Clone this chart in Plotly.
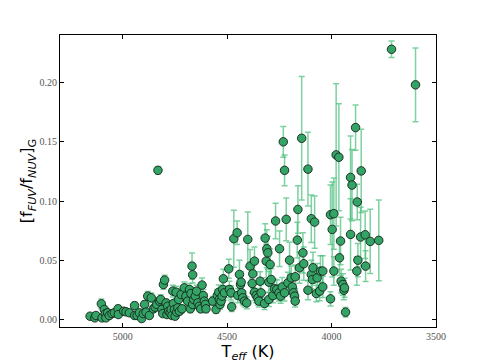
import plotly.graph_objects as go

# effective temperature (K)
teff = [
    5156, 5133, 5128, 5102, 5099, 5088, 5083, 5080, 5072, 5064,
    5051, 5040, 5022, 5021, 4995, 4984, 4968, 4943, 4943, 4931,
    4920, 4909, 4901, 4895, 4888, 4880, 4872, 4863, 4853, 4845,
    4837, 4831, 4824, 4818, 4812, 4808, 4805, 4799, 4792, 4788,
    4784, 4780, 4773, 4768, 4764, 4760, 4757, 4752, 4749, 4744,
    4741, 4736, 4732, 4728, 4720, 4716, 4705, 4697, 4689, 4680,
    4676, 4673, 4668, 4665, 4665, 4660, 4652, 4646, 4640, 4633,
    4626, 4620, 4614, 4609, 4604, 4601, 4569, 4553, 4547, 4540,
    4537, 4534, 4529, 4524, 4521, 4518, 4513, 4492, 4489, 4481,
    4478, 4468, 4452, 4449, 4441, 4436, 4433, 4430, 4425, 4417,
    4406, 4401, 4390, 4380, 4377, 4369, 4369, 4361, 4353, 4348,
    4342, 4337, 4321, 4318, 4313, 4310, 4305, 4300, 4300, 4294,
    4289, 4281, 4273, 4268, 4262, 4252, 4249, 4244, 4236, 4231,
    4225, 4225, 4217, 4209, 4201, 4193, 4188, 4182, 4177, 4174,
    4174, 4164, 4161, 4154, 4143, 4137, 4133, 4113, 4113, 4097,
    4097, 4092, 4089, 4081, 4073, 4069, 4057, 4053, 4042, 4042,
    4005, 4005, 3997, 3989, 3989, 3978, 3965, 3962, 3957, 3954,
    3946, 3941, 3938, 3933, 3909, 3909, 3902, 3885, 3877, 3879,
    3874, 3858, 3861, 3839, 3837, 3815, 3774, 3713, 3598,
]

# FUV/NUV flux ratio
ratio = [
    0.0031, 0.0017, 0.0037, 0.0135, 0.0017, 0.0087, 0.0053, 0.0017, 0.0060, 0.0037,
    0.0053, 0.0060, 0.0093, 0.0045, 0.0073, 0.0068, 0.0060, 0.0120, 0.0037, 0.0037,
    0.0060, 0.0011, 0.0053, 0.0130, 0.0065, 0.0200, 0.0037, 0.0186, 0.0093, 0.0107,
    0.0130, 0.1260, 0.0158, 0.0172, 0.0087, 0.0053, 0.0298, 0.0335, 0.0143, 0.0045,
    0.0115, 0.0073, 0.0060, 0.0087, 0.0037, 0.0242, 0.0138, 0.0087, 0.0031, 0.0233,
    0.0065, 0.0101, 0.0172, 0.0073, 0.0214, 0.0093, 0.0270, 0.0200, 0.0158, 0.0256,
    0.0093, 0.0222, 0.0453, 0.0380, 0.0130, 0.0172, 0.0200, 0.0242, 0.0143, 0.0115,
    0.0093, 0.0293, 0.0205, 0.0158, 0.0130, 0.0093, 0.0158, 0.0087, 0.0205, 0.0233,
    0.0172, 0.0130, 0.0158, 0.0200, 0.0256, 0.0346, 0.0228, 0.0430, 0.0256, 0.0228,
    0.0110, 0.0684, 0.0734, 0.0205, 0.0383, 0.0298, 0.0318, 0.0228, 0.0186, 0.0158,
    0.0143, 0.0678, 0.0453, 0.0307, 0.0388, 0.0495, 0.0233, 0.0205, 0.0186, 0.0158,
    0.0326, 0.0228, 0.0138, 0.0689, 0.0495, 0.0599, 0.0565, 0.0318, 0.0172, 0.0467,
    0.0340, 0.0205, 0.0262, 0.0833, 0.0256, 0.0228, 0.0599, 0.0200, 0.0278, 0.1500,
    0.1260, 0.0228, 0.0847, 0.0312, 0.0503, 0.0354, 0.0278, 0.0228, 0.0200, 0.0158,
    0.0363, 0.0672, 0.0930, 0.0439, 0.1530, 0.0565, 0.0473, 0.1270, 0.0250, 0.0852,
    0.0383, 0.0340, 0.0439, 0.0824, 0.0222, 0.0354, 0.0242, 0.0411, 0.0411, 0.0278,
    0.0177, 0.0886, 0.0762, 0.0895, 0.0411, 0.1390, 0.1370, 0.0523, 0.0664, 0.0326,
    0.0298, 0.0250, 0.0270, 0.0065, 0.1200, 0.0720, 0.1136, 0.1620, 0.0993, 0.0411,
    0.0503, 0.1255, 0.0698, 0.0717, 0.0453, 0.0661, 0.0670, 0.2280, 0.1980,
]

# 1-sigma uncertainty on the ratio
ratio_err = [
    0.002, 0.002, 0.002, 0.004, 0.002, 0.003, 0.002, 0.002, 0.002, 0.002,
    0.002, 0.002, 0.003, 0.002, 0.002, 0.002, 0.002, 0.003, 0.002, 0.002,
    0.002, 0.002, 0.002, 0.003, 0.002, 0.004, 0.002, 0.004, 0.003, 0.003,
    0.003, 0.003, 0.003, 0.004, 0.003, 0.002, 0.004, 0.004, 0.003, 0.002,
    0.003, 0.003, 0.002, 0.003, 0.002, 0.005, 0.003, 0.003, 0.002, 0.005,
    0.003, 0.003, 0.004, 0.003, 0.005, 0.003, 0.005, 0.004, 0.004, 0.005,
    0.003, 0.005, 0.011, 0.007, 0.004, 0.004, 0.005, 0.005, 0.004, 0.004,
    0.003, 0.006, 0.005, 0.004, 0.004, 0.003, 0.004, 0.003, 0.005, 0.006,
    0.005, 0.004, 0.005, 0.006, 0.007, 0.008, 0.006, 0.008, 0.007, 0.006,
    0.004, 0.024, 0.010, 0.006, 0.012, 0.008, 0.009, 0.007, 0.006, 0.005,
    0.005, 0.023, 0.014, 0.008, 0.012, 0.012, 0.007, 0.006, 0.006, 0.005,
    0.008, 0.007, 0.005, 0.012, 0.014, 0.016, 0.014, 0.009, 0.006, 0.013,
    0.009, 0.006, 0.008, 0.015, 0.008, 0.007, 0.015, 0.006, 0.008, 0.013,
    0.013, 0.007, 0.018, 0.009, 0.015, 0.010, 0.008, 0.007, 0.006, 0.005,
    0.010, 0.015, 0.020, 0.013, 0.052, 0.017, 0.014, 0.031, 0.008, 0.020,
    0.012, 0.010, 0.013, 0.022, 0.007, 0.012, 0.008, 0.013, 0.013, 0.009,
    0.006, 0.025, 0.040, 0.030, 0.012, 0.060, 0.045, 0.015, 0.020, 0.010,
    0.009, 0.008, 0.008, 0.004, 0.035, 0.030, 0.030, 0.019, 0.015, 0.012,
    0.014, 0.035, 0.025, 0.020, 0.013, 0.027, 0.034, 0.007, 0.031,
]

fig = go.Figure()

fig.add_trace(go.Scatter(
    x=teff, y=ratio, mode='markers',
    error_y=dict(type='data', array=ratio_err, color='rgba(70,190,120,0.7)',
                 thickness=1.5, width=3),
    marker=dict(size=8.5, color='#33a366', line=dict(color='#15241a', width=0.9)),
    showlegend=False,
))

tick_font = dict(family='Liberation Serif', size=10, color='#555')

# page body adds an 8px offset, so the figure is 8px smaller than the window
fig.update_layout(
    width=477, height=355,
    margin=dict(l=52, r=49, t=27, b=36),
    paper_bgcolor='white', plot_bgcolor='white',
    xaxis=dict(
        range=[5300, 3500], tickvals=[5000, 4500, 4000, 3500],
        ticks='inside', ticklen=4, tickcolor='#000', mirror='ticks',
        showline=True, linecolor='#000', linewidth=1.2, showgrid=False, zeroline=False,
        tickfont=tick_font, automargin=False,
        title=dict(text='T<sub><i>eff</i></sub> (K)', standoff=0,
                   font=dict(family='DejaVu Sans', size=16, color='#000')),
    ),
    yaxis=dict(
        range=[-0.006, 0.24], tickvals=[0, 0.05, 0.10, 0.15, 0.20], tickformat='.2f',
        ticks='inside', ticklen=4, tickcolor='#000', mirror='ticks',
        showline=True, linecolor='#000', linewidth=1.2, showgrid=False, zeroline=False,
        tickfont=tick_font, automargin=False,
        title=dict(text='[f<sub><i>FUV</i></sub>/f<sub><i>NUV</i></sub>]<sub>G</sub>',
                   standoff=2, font=dict(family='DejaVu Sans', size=16, color='#000')),
    ),
)

fig.write_html("out.html")
